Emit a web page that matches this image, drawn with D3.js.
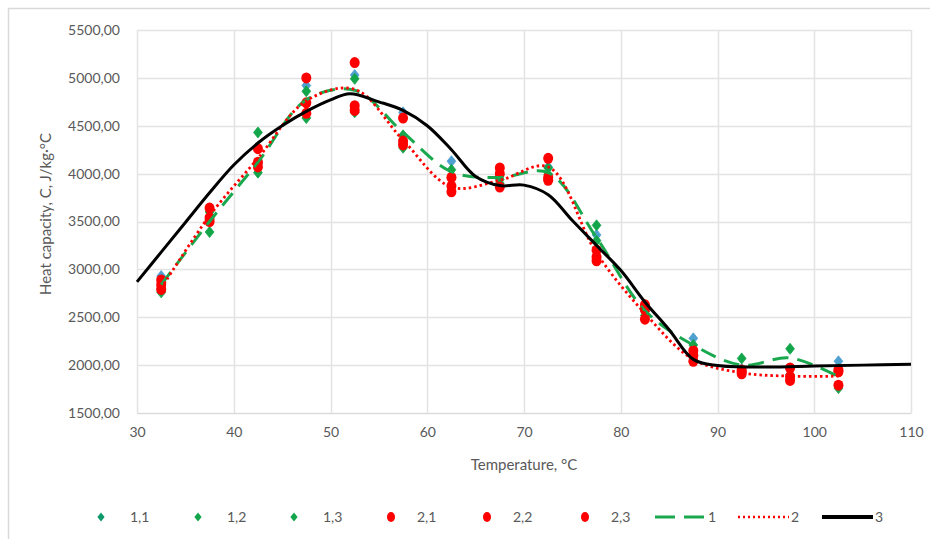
<!DOCTYPE html>
<html><head><meta charset="utf-8">
<script src="https://cdn.jsdelivr.net/npm/d3@7"></script>
<style>body{margin:0;background:#fff}svg{display:block}text{font-family:Lato,"Open Sans",sans-serif;fill:#595959}</style>
</head><body>
<svg id="c" width="930" height="539"></svg>
<script>
const temps = [32.5,37.5,42.5,47.5,52.5,57.5,62.5,67.5,72.5,77.5,82.5,87.5,92.5,97.5,102.5];
const s11 = [2930,3520,4100,4920,5030,4640,4130,3990,4070,3360,2600,2280,1960,1960,2040];
const s12 = [2800,3390,4430,4860,4990,4400,4040,3940,4060,3460,2560,2210,2070,2170,1960];
const s13 = [2760,3600,4010,4580,4640,4270,3960,3900,3990,3300,2520,2100,1930,1900,1760];
const s21 = [2890,3640,4260,5000,5160,4580,3960,4060,4160,3200,2630,2150,1950,1970,1950];
const s22 = [2840,3540,4120,4740,4710,4340,3870,4000,3960,3130,2580,2100,1930,1880,1930];
const s23 = [2790,3500,4070,4630,4660,4300,3810,3860,3930,3090,2480,2040,1910,1840,1790];
const line1 = [2840,3500,4120,4770,4870,4430,4020,3960,4010,3330,2570,2210,2000,2075,1880];
const line2 = [2800,3560,4160,4760,4880,4350,3860,3930,4070,3170,2540,2060,1920,1885,1885];
const line3T = [30,32.5,35,37.5,40,42.5,45,47.5,50,52,55,57.5,60,62.5,65,67.5,70,72.5,75,77.5,80,82.5,85,87.5,90,95,100,105,110];
const line3 = [2870,3180,3490,3800,4090,4320,4500,4650,4770,4835,4750,4660,4500,4250,3970,3875,3880,3780,3510,3250,2990,2660,2370,2060,1995,1980,1990,2000,2010];
const xTicks = [30,40,50,60,70,80,90,100,110];
const yTicks = [1500,2000,2500,3000,3500,4000,4500,5000,5500];
const legendLabels = ["1,1","1,2","1,3","2,1","2,2","2,3","1","2","3"];

const svg = d3.select("#c");
const x = d3.scaleLinear().domain([30,110]).range([137,911]);
const y = d3.scaleLinear().domain([1500,5500]).range([413,30]);
const fmt = v => d3.format(".2f")(v).replace(".", ",");

// frame
svg.append("rect").attr("x",8.5).attr("y",8.5).attr("width",960).attr("height",600)
  .attr("fill","none").attr("stroke","#d9d9d9").attr("stroke-width",1.5);

// grid
svg.append("g").selectAll("line").data(yTicks).join("line")
  .attr("x1",x(30)).attr("x2",x(110)).attr("y1",d=>Math.round(y(d))+0.5).attr("y2",d=>Math.round(y(d))+0.5)
  .attr("stroke","#e3e3e3").attr("stroke-width",1.5);
svg.append("g").selectAll("line").data(xTicks).join("line")
  .attr("y1",y(1500)).attr("y2",y(5500)).attr("x1",d=>Math.round(x(d))+0.5).attr("x2",d=>Math.round(x(d))+0.5)
  .attr("stroke","#e3e3e3").attr("stroke-width",1.5);

// axes via d3
const xAxis = svg.append("g").attr("transform",`translate(0,${y(1500)})`)
  .call(d3.axisBottom(x).tickValues(xTicks).tickSize(0).tickPadding(14).tickFormat(d3.format("d")));
xAxis.select(".domain").attr("stroke","#d9d9d9");
xAxis.selectAll("text").style("font-size","14px").attr("fill","#595959");
const yAxis = svg.append("g").attr("transform",`translate(${x(30)},0)`)
  .call(d3.axisLeft(y).tickValues(yTicks).tickSize(0).tickPadding(17).tickFormat(fmt));
yAxis.select(".domain").remove();
yAxis.selectAll("text").style("font-size","14px").attr("fill","#595959");

// titles
svg.append("text").attr("x",524).attr("y",470).attr("text-anchor","middle").style("font-size","15px").text("Temperature, °C");
svg.append("text").attr("transform","translate(51,214) rotate(-90)").attr("text-anchor","middle").style("font-size","15px").text("Heat capacity, C, J/kg·°C");

const green = "#12a54a", blue = "#4f9fd0", red = "#ff0000";
const diamond = s => `M0,${-s}L${s*0.8},0L0,${s}L${-s*0.8},0Z`;

function diamonds(arr, fill, stroke){
  svg.append("g").selectAll("path").data(arr).join("path")
    .attr("d",diamond(5.5)).attr("transform",(d,i)=>`translate(${x(temps[i])},${y(d)})`)
    .attr("fill",fill).attr("stroke",stroke).attr("stroke-width",0.8);
}
function circles(arr){
  svg.append("g").selectAll("ellipse").data(arr).join("ellipse")
    .attr("cx",(d,i)=>x(temps[i])).attr("cy",d=>y(d)).attr("rx",5).attr("ry",5.5).attr("fill",red);
}
diamonds(s11, blue, blue);
diamonds(s12, green, green);
diamonds(s13, green, green);
circles(s21); circles(s22); circles(s23);

const lg = d3.line().curve(d3.curveCatmullRom.alpha(0.5));
svg.append("path").attr("d",lg(temps.map((t,i)=>[x(t),y(line1[i])])))
  .attr("fill","none").attr("stroke","#1aa84e").attr("stroke-width",3).attr("stroke-dasharray","16,9");
svg.append("path").attr("d",lg(temps.map((t,i)=>[x(t),y(line2[i])])))
  .attr("fill","none").attr("stroke",red).attr("stroke-width",2.8).attr("stroke-dasharray","2.5,3");
svg.append("path").attr("d",lg(line3T.map((t,i)=>[x(t),y(line3[i])])))
  .attr("fill","none").attr("stroke","#000").attr("stroke-width",3);

// legend
const legX = [101,198,294,391,487,585,655,738,822];
const ly = 517;
legendLabels.forEach((lab,i)=>{
  const g = svg.append("g");
  if(i<3){
    g.append("path").attr("d",diamond(4.5)).attr("transform",`translate(${legX[i]},${ly})`)
      .attr("fill", i===0 ? "#0e9a6a" : green);
    g.append("text").attr("x",legX[i]+29).attr("y",ly+5).style("font-size","14px").text(lab);
  } else if(i<6){
    g.append("ellipse").attr("cx",legX[i]).attr("cy",ly).attr("rx",4).attr("ry",5).attr("fill",red);
    g.append("text").attr("x",legX[i]+26).attr("y",ly+5).style("font-size","14px").text(lab);
  } else {
    const st = [{c:"#1aa84e",w:3,da:"20,9"},{c:red,w:2.5,da:"2,3"},{c:"#000",w:4,da:null}][i-6];
    const ln = g.append("line").attr("x1",legX[i]).attr("x2",legX[i]+51).attr("y1",ly).attr("y2",ly)
      .attr("stroke",st.c).attr("stroke-width",st.w);
    if(st.da) ln.attr("stroke-dasharray",st.da);
    g.append("text").attr("x",legX[i]+53).attr("y",ly+5).style("font-size","14px").text(lab);
  }
});
</script>
</body></html>
